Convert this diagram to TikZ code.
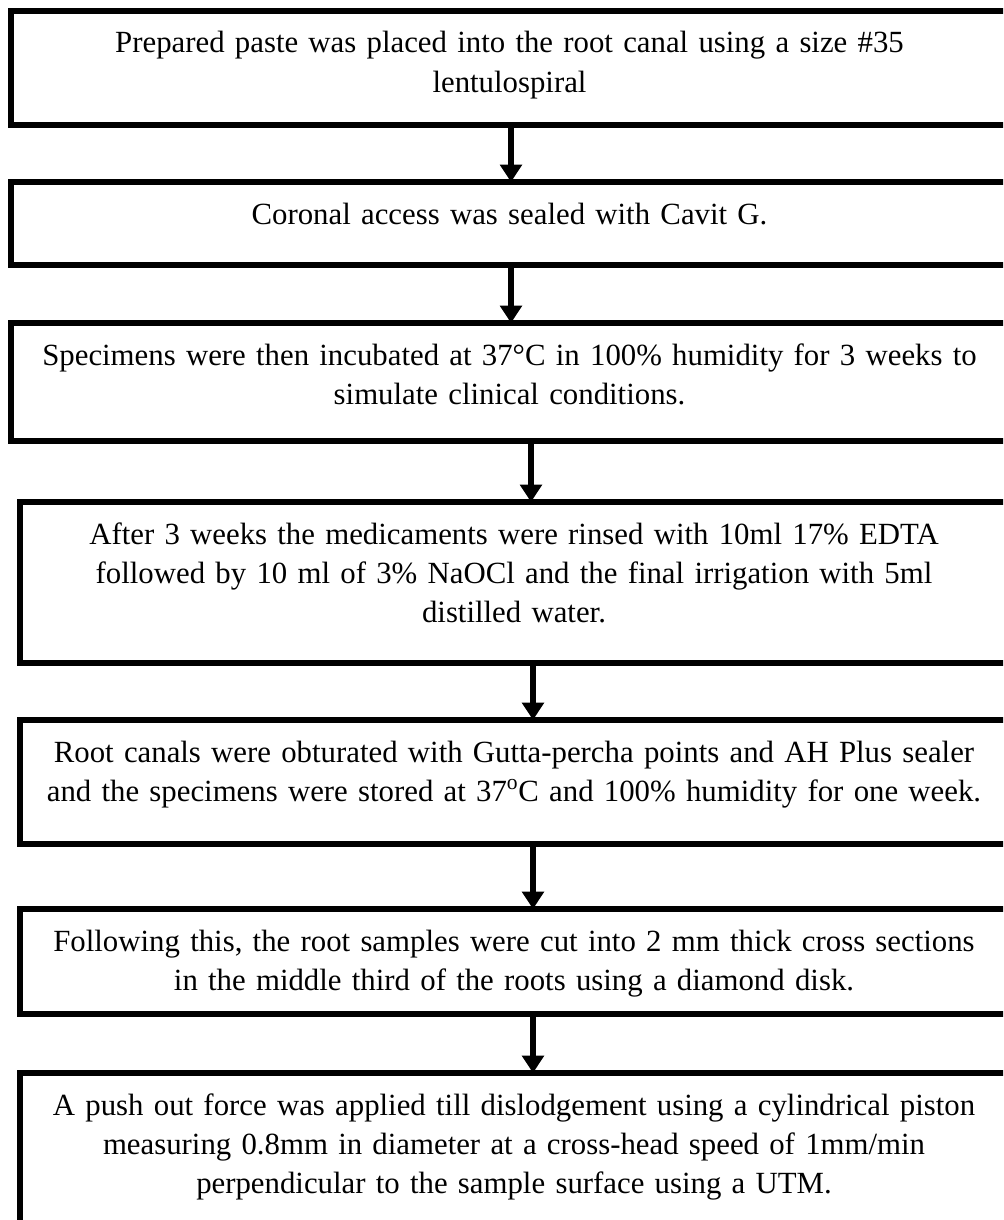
\documentclass[tikz,border=0pt]{standalone}
\usepackage{fontspec}
\setmainfont{Liberation Serif}
\usetikzlibrary{arrows.meta}
\newcommand{\Px}{0.75pt}
\newcommand{\LineW}{4.5pt}
\tikzset{StepBox/.style n args={2}{
		draw=black,
		line width=\LineW,
		inner sep=0pt,
		anchor=north,
		align=center,
		text width=#1,
		text height=31.5pt,
		text depth=#2,
		font=\fontsize{23.1pt}{29.5pt}\selectfont,
	},
	Arrow/.style={
		line width=\LineW,
		-{Triangle[width=16pt,length=13pt]},
		shorten >=-2.25pt,
	}
}

\begin{document}
\begin{tikzpicture}[x=\Px,y=-\Px]
	\useasboundingbox (0,0) rectangle (1003,1220);
	\clip (0,0) rectangle (1003,1220);
	\node [StepBox={747.75pt}{54pt}] (paste) at (509.5,8)
		{Prepared paste was placed into the root canal using a size \#35\\ lentulospiral};
	\node [StepBox={747.75pt}{30.75pt}] (seal) at (509.5,179)
		{Coronal access was sealed with Cavit G.};
	\node [StepBox={747.75pt}{57pt}] (incubate) at (509.5,320)
		{Specimens were then incubated at 37°C in 100\% humidity for 3 weeks to\\ simulate clinical conditions.};
	\node [StepBox={741pt}{88.9pt}] (rinse) at (514,499)
		{After 3 weeks the medicaments were rinsed with 10ml 17\% EDTA\\ followed by 10 ml of 3\% NaOCl and the final irrigation with 5ml\\ distilled water.};
	\node [StepBox={741pt}{61.5pt}] (obturate) at (514,717)
		{Root canals were obturated with Gutta-percha points and AH Plus sealer\\ and the specimens were stored at 37\textsuperscript{o}C and 100\% humidity for one week.};
	\node [StepBox={741pt}{47.25pt}] (section) at (514,906)
		{Following this, the root samples were cut into 2 mm thick cross sections\\ in the middle third of the roots using a diamond disk.};
	\node [StepBox={741pt}{99.75pt}] (pushout) at (514,1070)
		{A push out force was applied till dislodgement using a cylindrical piston\\ measuring 0.8mm in diameter at a cross-head speed of 1mm/min\\ perpendicular to the sample surface using a UTM.};
	% arrows between the steps
	\foreach \From/\To/\Shift in {paste/seal/1.5, seal/incubate/1.5, incubate/rinse/21.5, rinse/obturate/19, obturate/section/19, section/pushout/19}{%
		\draw [Arrow] ([xshift=\Shift*\Px]\From.south) -- ([xshift=\Shift*\Px]\From.south |- \To.north);
	}
\end{tikzpicture}
\end{document}
